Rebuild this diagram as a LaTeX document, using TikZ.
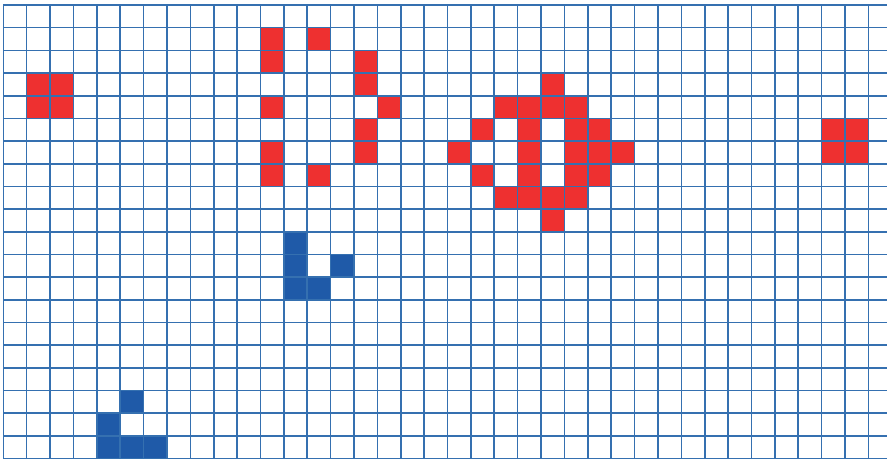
\documentclass[tikz,border=0pt]{standalone}
\definecolor{gridblue}{HTML}{3570B0}
\definecolor{cellred}{HTML}{EE3030}
\definecolor{cellblue}{HTML}{1F5AA8}
\begin{document}
\begin{tikzpicture}[x=1pt,y=1pt,
  gridline/.style={draw=gridblue,line width=1.6pt},
  redcell/.style={fill=cellred},
  bluecell/.style={fill=cellblue}]
\useasboundingbox (0,0) rectangle (887,460);
\fill[white] (0,0) rectangle (887,460);
\def\xo{3.3}\def\dx{23.38}\def\yt{455}\def\dy{22.68}
% red cells (col,row)
\foreach \c/\r in {1/3,2/3,1/4,2/4,
  11/1,11/2,11/4,11/6,11/7,13/1,13/7,15/2,15/3,15/5,15/6,16/4,
  19/6,20/5,20/7,21/4,21/8,22/4,22/5,22/6,22/7,22/8,23/3,23/4,23/8,23/9,
  24/4,24/5,24/6,24/7,24/8,25/5,25/6,25/7,26/6,
  35/5,36/5,35/6,36/6}
  \fill[redcell] ({\xo+\c*\dx},{\yt-\r*\dy}) rectangle ({\xo+(\c+1)*\dx},{\yt-(\r+1)*\dy});
% blue cells
\foreach \c/\r in {12/10,12/11,12/12,13/12,14/11,
  4/18,4/19,5/17,5/19,6/19}
  \fill[bluecell] ({\xo+\c*\dx},{\yt-\r*\dy}) rectangle ({\xo+(\c+1)*\dx},{\yt-(\r+1)*\dy});
% grid
\begin{scope}
\clip (0,0) rectangle (887,460);
\foreach \i in {0,...,37}
  \draw[gridline] ({\xo+\i*\dx},\yt) -- ({\xo+\i*\dx},{\yt-20*\dy});
\foreach \j in {0,...,20}
  \draw[gridline] (\xo,{\yt-\j*\dy}) -- (890,{\yt-\j*\dy});
\end{scope}
\end{tikzpicture}
\end{document}
